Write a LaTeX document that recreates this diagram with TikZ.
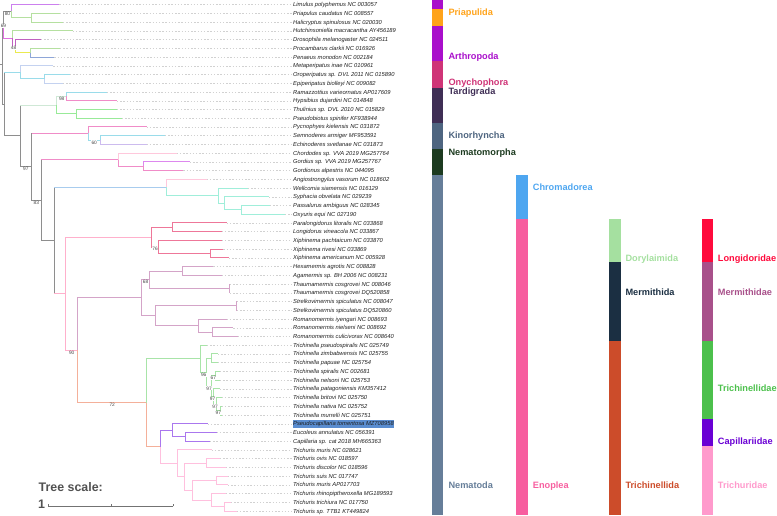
\documentclass[tikz,border=0pt]{standalone}
\usepackage{fontspec}
\setmainfont{Liberation Sans}
\usepackage{tikz}
\usepackage{xcolor}
\definecolor{br-gray}{HTML}{8E8E8E}
\definecolor{br-violet}{HTML}{CC80EE}
\definecolor{br-lgreen}{HTML}{B5E0A0}
\definecolor{br-magenta}{HTML}{E070E0}
\definecolor{br-purple}{HTML}{C060C0}
\definecolor{br-yellow}{HTML}{EAEA50}
\definecolor{br-blue}{HTML}{8EA6D8}
\definecolor{br-cyan}{HTML}{9ADCEA}
\definecolor{br-lavblue}{HTML}{C4D2F0}
\definecolor{br-mint}{HTML}{CFE8D6}
\definecolor{br-green}{HTML}{98EA98}
\definecolor{br-pink}{HTML}{F08CC8}
\definecolor{br-lpink}{HTML}{FFC8DC}
\definecolor{br-lilac}{HTML}{CCBBEE}
\definecolor{br-orchid}{HTML}{DD88EE}
\definecolor{br-sky}{HTML}{A8CCEE}
\definecolor{br-aqua}{HTML}{A0EEDA}
\definecolor{br-rose}{HTML}{FFB0CC}
\definecolor{br-red}{HTML}{EE7799}
\definecolor{br-mauve}{HTML}{D4A4C8}
\definecolor{br-salmon}{HTML}{F4B09A}
\definecolor{br-tgreen}{HTML}{A8E4A8}
\definecolor{br-capil}{HTML}{AA77EE}
\definecolor{br-trichu}{HTML}{FFC0DE}
\definecolor{hl-blue}{HTML}{5A8DD0}
\definecolor{st-priap}{HTML}{FFA31A}
\definecolor{st-arth}{HTML}{A90FCB}
\definecolor{st-ony}{HTML}{CF3477}
\definecolor{st-tard}{HTML}{3F2E55}
\definecolor{st-kino}{HTML}{4E6580}
\definecolor{st-nmorph}{HTML}{1D3B20}
\definecolor{st-nema}{HTML}{667E99}
\definecolor{st-chrom}{HTML}{4EA6F0}
\definecolor{st-enop}{HTML}{F75E9F}
\definecolor{st-dory}{HTML}{A5E0A0}
\definecolor{st-merm}{HTML}{1B2F42}
\definecolor{st-trichin}{HTML}{CC4C2A}
\definecolor{st-longi}{HTML}{FF0A3C}
\definecolor{st-mermd}{HTML}{A8508A}
\definecolor{st-trinel}{HTML}{4CC04C}
\definecolor{st-capil}{HTML}{6A00D4}
\definecolor{st-trichu}{HTML}{FF9ACC}
\tikzset{
    branch/.style = {line width=0.9pt},
    leader-line/.style = {draw=black!18, line width=0.4pt, dash pattern=on 1.4pt off 1.8pt},
    taxon-label/.style = {anchor=west, inner sep=0pt, text height=4.15pt, text depth=0pt, text=black!88, font=\fontsize{5.8}{6}\selectfont\itshape},
    boot-label/.style = {fill=white, inner sep=0.3pt, text=black!72, font=\fontsize{4.8}{5}\selectfont},
    clade-label/.style = {anchor=west, inner sep=0pt, text height=6.6pt, text depth=0pt, font=\fontsize{9.2}{10}\selectfont\bfseries},
    highlight-box/.style = {fill=hl-blue, inner sep=0pt, minimum width=101.6pt, minimum height=7.6pt},
    scale-text/.style = {anchor=west, inner sep=0pt, text height=8.7pt, text depth=0pt, text=black!68, font=\fontsize{12.4}{13}\selectfont\bfseries},
    scale-bar/.style = {draw=black!55, line width=0.6pt},
}

\begin{document}
\begin{tikzpicture}[x=1pt, y=-1pt]
\useasboundingbox (0,0) rectangle (777,516);
\node[highlight-box] (hl-box) at (343.5,423.7) {};
\foreach \i/\tx/\tname in {
    1/59.3/Limulus polyphemus NC 003057,
    2/60/Priapulus caudatus NC 008557,
    3/63/Halicryptus spinulosus NC 020030,
    4/72.7/Hutchinsoniella macracantha AY456189,
    5/41/Drosophila melanogaster NC 024511,
    6/60/Procambarus clarkii NC 016926,
    7/54.3/Penaeus monodon NC 002184,
    8/53.3/Metaperipatus inae NC 010961,
    9/70/Oroperipatus sp. DVL 2011 NC 015890,
    10/63/Epiperipatus biolleyi NC 009082,
    11/107/Ramazzottius varieornatus AP017609,
    12/117/Hypsibius dujardini NC 014848,
    13/117/Thulinius sp. DVL 2010 NC 015829,
    14/122/Pseudobiotus spinifer KF938944,
    15/146.7/Pycnophyes kielensis NC 031872,
    16/165/Semnoderes armiger MF953591,
    17/146.7/Echinoderes svetlanae NC 031873,
    18/176.7/Chordodes sp. VVA 2019 MG257764,
    19/190/Gordius sp. VVA 2019 MG257767,
    20/183.3/Gordionus alpestris NC 044095,
    21/206.7/Angiostrongylus vasorum NC 018602,
    22/248/Wellcomia siamensis NC 016129,
    23/269/Syphacia obvelata NC 029239,
    24/270/Passalurus ambiguus NC 028345,
    25/285/Oxyuris equi NC 027190,
    26/226.7/Paralongidorus litoralis NC 033868,
    27/221.7/Longidorus vineacola NC 033867,
    28/221.7/Xiphinema pachtaicum NC 033870,
    29/223.3/Xiphinema rivesi NC 033869,
    30/229/Xiphinema americanum NC 005928,
    31/213.3/Hexamermis agrotis NC 008828,
    32/221.7/Agamermis sp. BH 2006 NC 008231,
    33/230/Thaumamermis cosgrovei NC 008046,
    34/230/Thaumamermis cosgrovei DQ520858,
    35/237/Strelkovimermis spiculatus NC 008047,
    36/237/Strelkovimermis spiculatus DQ520860,
    37/226.7/Romanomermis iyengari NC 008693,
    38/233.3/Romanomermis nielseni NC 008692,
    39/237.7/Romanomermis culicivorax NC 008640,
    40/207/Trichinella pseudospiralis NC 025749,
    41/218/Trichinella zimbabwensis NC 025755,
    42/218/Trichinella papuae NC 025754,
    43/220/Trichinella spiralis NC 002681,
    44/220/Trichinella nelsoni NC 025753,
    45/220/Trichinella patagoniensis KM357412,
    46/221.7/Trichinella britovi NC 025750,
    47/221.7/Trichinella nativa NC 025752,
    48/221.7/Trichinella murrelli NC 025751,
    49/207.7/Pseudocapillaria tomentosa MZ708958,
    50/216.7/Eucoleus annulatus NC 056391,
    51/210/Capillaria sp. cat 2018 MH665363,
    52/211.7/Trichuris muris NC 028621,
    53/220/Trichuris ovis NC 018597,
    54/226/Trichuris discolor NC 018596,
    55/228/Trichuris suis NC 017747,
    56/228/Trichuris muris AP017703,
    57/226/Trichuris rhinopiptheroxella MG189593,
    58/231/Trichuris trichiura NC 017750,
    59/236.7/Trichuris sp. TTB1 KT449824}{
    \coordinate (t\i) at (\tx, {4.7+(\i-1)*8.73});
    \node[taxon-label] (l\i) at (293, {4.7+(\i-1)*8.73}) {\tname};
    \draw[leader-line] (t\i) -- ([xshift=-1.5pt]l\i.west);
}

\coordinate (n-stub) at (0,64.5);
\coordinate (n-root) at (2.5,64.5);
\coordinate (n-b69) at (3.3,24.9);
\coordinate (n-lp) at (11.7,11.3);
\coordinate (n-priap) at (31.7,17.8);
\coordinate (n-arth) at (12.3,38.5);
\coordinate (n-dp) at (15,46.2);
\coordinate (n-pp) at (30,52.75);
\coordinate (n-oc) at (4.3,104.15);
\coordinate (n-ony) at (20,72.35);
\coordinate (n-oe) at (44,78.9);
\coordinate (n-tkn) at (20,135.95);
\coordinate (n-tard) at (56.7,105.1);
\coordinate (n-rh) at (66.7,96.35);
\coordinate (n-tp) at (76,113.85);
\coordinate (n-97) at (31.7,166.8);
\coordinate (n-kin) at (88.3,133.45);
\coordinate (n-se) at (100,140);
\coordinate (n-83) at (41,200.1);
\coordinate (n-nmorph) at (118.3,159.65);
\coordinate (n-gg) at (143.3,166.2);
\coordinate (n-nemat) at (54.3,240.6);
\coordinate (n-chrom) at (166.7,187.5);
\coordinate (n-oxy) at (218.3,195.65);
\coordinate (n-spo) at (224.3,203.3);
\coordinate (n-po) at (241.7,209.85);
\coordinate (n-enop) at (65.7,293.65);
\coordinate (n-dory) at (151.7,237.1);
\coordinate (n-pl) at (172.7,227.3);
\coordinate (n-xiph) at (158.3,246.95);
\coordinate (n-ra) at (210,253.5);
\coordinate (n-mt) at (77.7,350.2);
\coordinate (n-merm) at (141.7,297.7);
\coordinate (n-hat) at (149.3,279.7);
\coordinate (n-ha) at (182.3,270.95);
\coordinate (n-tc) at (229.3,288.4);
\coordinate (n-sr) at (155.7,315.7);
\coordinate (n-ss) at (236,305.85);
\coordinate (n-rom) at (198.3,325.5);
\coordinate (n-nc) at (212.3,332.05);
\coordinate (n-trl) at (146.7,402.7);
\coordinate (n-trin) at (200.7,358.6);
\coordinate (n-96) at (206.7,372.15);
\coordinate (n-zp) at (211.7,358.25);
\coordinate (n-97a) at (211.5,386.05);
\coordinate (n-sn) at (215,375.7);
\coordinate (n-pbnm) at (213.5,396.4);
\coordinate (n-bnm) at (216.5,404.05);
\coordinate (n-nm) at (220,410.6);
\coordinate (n-ct) at (160,446.75);
\coordinate (n-cap) at (172.3,430.25);
\coordinate (n-ec) at (185.3,436.8);
\coordinate (n-trichu) at (177.7,463.25);
\coordinate (n-odsmr) at (184.3,476.6);
\coordinate (n-od) at (206.7,462.95);
\coordinate (n-smr) at (192.7,490.3);
\coordinate (n-sm) at (216,480.45);
\coordinate (n-rtt) at (211.7,500.1);
\coordinate (n-tts) at (224.3,506.65);

\draw[branch, br-gray] (n-stub) -- (n-root);
\foreach \p/\c in {n-root/n-b69, n-root/n-oc, n-b69/n-lp, n-oc/n-ony, n-oc/n-tkn, n-tkn/n-tard, n-tkn/n-97, n-97/n-kin, n-97/n-83, n-83/n-nmorph, n-83/n-nemat, n-nemat/n-chrom, n-nemat/n-enop}
    \draw[branch, br-gray] (\p) |- (\c);
\foreach \p/\c/\col in {n-oc/n-ony/br-cyan, n-tkn/n-tard/br-mint, n-97/n-kin/br-pink, n-83/n-nmorph/br-pink, n-nemat/n-chrom/br-sky, n-nemat/n-enop/br-rose}
    \draw[branch, \col] (\p |- \c) -- (\c);
\foreach \p/\c/\col in {
    n-lp/t1/br-violet, n-lp/n-priap/br-lgreen, n-priap/t2/br-lgreen, n-priap/t3/br-lgreen,
    n-b69/n-arth/br-magenta, n-arth/t4/br-lgreen, n-arth/n-dp/br-purple, n-dp/t5/br-purple,
    n-dp/n-pp/br-yellow, n-pp/t6/br-lgreen, n-pp/t7/br-blue,
    n-ony/t8/br-lavblue, n-ony/n-oe/br-cyan, n-oe/t9/br-cyan, n-oe/t10/br-lavblue,
    n-tard/n-rh/br-mint, n-rh/t11/br-cyan, n-rh/t12/br-pink,
    n-tard/n-tp/br-green, n-tp/t13/br-green, n-tp/t14/br-green,
    n-kin/t15/br-pink, n-kin/n-se/br-cyan, n-se/t16/br-cyan, n-se/t17/br-lilac,
    n-nmorph/t18/br-lpink, n-nmorph/n-gg/br-pink, n-gg/t19/br-orchid, n-gg/t20/br-pink,
    n-chrom/t21/br-lpink, n-chrom/n-oxy/br-aqua, n-oxy/t22/br-aqua, n-oxy/n-spo/br-aqua,
    n-spo/t23/br-aqua, n-spo/n-po/br-aqua, n-po/t24/br-aqua, n-po/t25/br-aqua,
    n-enop/n-dory/br-rose, n-dory/n-pl/br-red, n-pl/t26/br-red, n-pl/t27/br-red,
    n-dory/n-xiph/br-red, n-xiph/t28/br-red, n-xiph/n-ra/br-red, n-ra/t29/br-red, n-ra/t30/br-red,
    n-enop/n-mt/br-rose, n-mt/n-merm/br-mauve, n-merm/n-hat/br-mauve, n-hat/n-ha/br-mauve,
    n-ha/t31/br-mauve, n-ha/t32/br-mauve, n-hat/n-tc/br-mauve, n-tc/t33/br-mauve, n-tc/t34/br-mauve,
    n-merm/n-sr/br-mauve, n-sr/n-ss/br-mauve, n-ss/t35/br-mauve, n-ss/t36/br-mauve,
    n-sr/n-rom/br-mauve, n-rom/t37/br-mauve, n-rom/n-nc/br-mauve, n-nc/t38/br-mauve, n-nc/t39/br-mauve,
    n-mt/n-trl/br-salmon, n-trl/n-trin/br-tgreen, n-trin/t40/br-tgreen, n-trin/n-96/br-tgreen,
    n-96/n-zp/br-tgreen, n-zp/t41/br-tgreen, n-zp/t42/br-tgreen, n-96/n-97a/br-tgreen,
    n-97a/n-sn/br-tgreen, n-sn/t43/br-tgreen, n-sn/t44/br-tgreen, n-97a/n-pbnm/br-tgreen,
    n-pbnm/t45/br-tgreen, n-pbnm/n-bnm/br-tgreen, n-bnm/t46/br-tgreen, n-bnm/n-nm/br-tgreen,
    n-nm/t47/br-tgreen, n-nm/t48/br-tgreen,
    n-trl/n-ct/br-salmon, n-ct/n-cap/br-capil, n-cap/t49/br-capil, n-cap/n-ec/br-capil,
    n-ec/t50/br-capil, n-ec/t51/br-capil,
    n-ct/n-trichu/br-trichu, n-trichu/t52/br-trichu, n-trichu/n-odsmr/br-trichu,
    n-odsmr/n-od/br-trichu, n-od/t53/br-trichu, n-od/t54/br-trichu,
    n-odsmr/n-smr/br-trichu, n-smr/n-sm/br-trichu, n-sm/t55/br-trichu, n-sm/t56/br-trichu,
    n-smr/n-rtt/br-trichu, n-rtt/t57/br-trichu, n-rtt/n-tts/br-trichu, n-tts/t58/br-trichu, n-tts/t59/br-trichu}
    \draw[branch, \col] (\p) |- (\c);

\node[boot-label] (b-80) at (7.5,13.6) {80};
\node[boot-label] (b-69) at (3.5,26.2) {69};
\node[boot-label] (b-48) at (13.6,48.3) {48};
\node[boot-label] (b-98) at (61.7,98.6) {98};
\node[boot-label] (b-60) at (94.2,142.4) {60};
\node[boot-label] (b-97) at (25.8,169) {97};
\node[boot-label] (b-83) at (36.3,202.5) {83};
\node[boot-label] (b-76) at (155,249.3) {76};
\node[boot-label] (b-68) at (145.5,282) {68};
\node[boot-label] (b-90) at (71.7,352.7) {90};
\node[boot-label] (b-72) at (112.2,405.2) {72};
\node[boot-label] (b-96) at (203.7,374.5) {96};
\node[boot-label] (b-67) at (213.3,378) {67};
\node[boot-label] (b-97a) at (209.1,388.4) {97};
\node[boot-label] (b-97b) at (212.5,398.8) {97};
\node[boot-label] (b-97c) at (215,406.4) {97};
\node[boot-label] (b-97d) at (218.3,413) {97};

\foreach \xa/\ya/\yb/\col in {
    431.7/0.3/9.1/st-arth, 431.7/9.1/26.5/st-priap, 431.7/26.5/61.4/st-arth,
    431.7/61.4/87.6/st-ony, 431.7/87.6/122.6/st-tard, 431.7/122.6/148.8/st-kino,
    431.7/148.8/175/st-nmorph, 431.7/175/515.4/st-nema,
    516/175/218.5/st-chrom, 516/218.5/515.4/st-enop,
    609/218.5/262.2/st-dory, 609/262.2/340.8/st-merm, 609/340.8/515.4/st-trichin,
    701.7/218.5/262.2/st-longi, 701.7/262.2/340.8/st-mermd, 701.7/340.8/419.3/st-trinel,
    701.7/419.3/445.5/st-capil, 701.7/445.5/515.4/st-trichu}
    \fill[\col] (\xa,\ya) rectangle (\xa+11.6,\yb);

\node[clade-label, text=st-priap] (c-priap) at (448.3,12.7) {Priapulida};
\node[clade-label, text=st-arth] (c-arth) at (448.3,56) {Arthropoda};
\node[clade-label, text=st-ony] (c-ony) at (448.3,82.7) {Onychophora};
\node[clade-label, text=st-tard] (c-tard) at (448.3,91.7) {Tardigrada};
\node[clade-label, text=st-kino] (c-kino) at (448.3,135) {Kinorhyncha};
\node[clade-label, text=st-nmorph] (c-nmorph) at (448.3,152.7) {Nematomorpha};
\node[clade-label, text=st-nema] (c-nema) at (448.3,485) {Nematoda};
\node[clade-label, text=st-chrom] (c-chrom) at (532.7,187.7) {Chromadorea};
\node[clade-label, text=st-enop] (c-enop) at (532.7,485) {Enoplea};
\node[clade-label, text=st-dory] (c-dory) at (625.3,257.7) {Dorylaimida};
\node[clade-label, text=st-merm] (c-merm) at (625.3,292.3) {Mermithida};
\node[clade-label, text=st-trichin] (c-trichin) at (625.3,485) {Trichinellida};
\node[clade-label, text=st-longi] (c-longi) at (717.7,257.7) {Longidoridae};
\node[clade-label, text=st-mermd] (c-mermd) at (717.7,292.3) {Mermithidae};
\node[clade-label, text=st-trinel] (c-trinel) at (717.7,388.3) {Trichinellidae};
\node[clade-label, text=st-capil] (c-capil) at (717.7,440.7) {Capillariidae};
\node[clade-label, text=st-trichu] (c-trichu) at (717.7,485) {Trichuridae};

\node[scale-text] (scale-title) at (38.5,486.7) {Tree scale:};
\node[scale-text] (scale-one) at (38,504.3) {1};
\coordinate (bar-a) at (48.3,506.3);
\coordinate (bar-m) at (110.8,506.3);
\coordinate (bar-b) at (173.3,506.3);
\draw[scale-bar] (bar-a) -- (bar-b);
\foreach \c in {bar-a, bar-m, bar-b}
    \draw[scale-bar] (\c) -- ++(0,-2.5);
\end{tikzpicture}
\end{document}
